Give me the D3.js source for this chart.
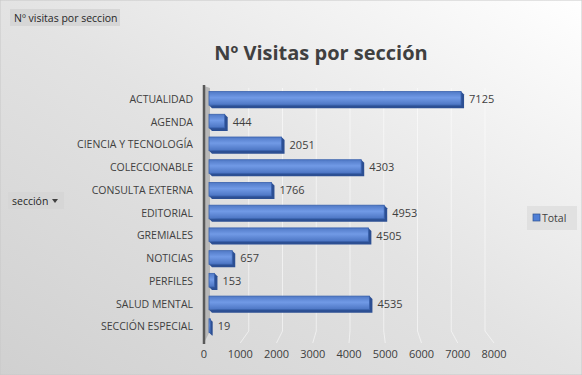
<!DOCTYPE html>
<html>
<head>
<meta charset="utf-8">
<script src="https://d3js.org/d3.v7.min.js"></script>
<style>
  body { margin: 0; }
  svg { display: block; }
  text { font-family: "Open Sans", sans-serif; }
</style>
</head>
<body>
<svg id="chart" width="582" height="375"></svg>
<script>
  // data
  const categories = ["ACTUALIDAD", "AGENDA", "CIENCIA Y TECNOLOGÍA", "COLECCIONABLE", "CONSULTA EXTERNA",
    "EDITORIAL", "GREMIALES", "NOTICIAS", "PERFILES", "SALUD MENTAL", "SECCIÓN ESPECIAL"];
  const visitas = [7125, 444, 2051, 4303, 1766, 4953, 4505, 657, 153, 4535, 19];
  const ticks = [0, 1000, 2000, 3000, 4000, 5000, 6000, 7000, 8000];

  const svg = d3.select("#chart");
  const W = 582, H = 375;
  const defs = svg.append("defs");

  // background gradient
  const bg = defs.append("linearGradient").attr("id", "bg")
    .attr("x1", "100%").attr("y1", "0%").attr("x2", "0%").attr("y2", "100%");
  bg.append("stop").attr("offset", "0%").attr("stop-color", "#ffffff");
  bg.append("stop").attr("offset", "50%").attr("stop-color", "#e3e3e3");
  bg.append("stop").attr("offset", "100%").attr("stop-color", "#d0d0d0");
  svg.append("rect").attr("width", W).attr("height", H).attr("fill", "url(#bg)")
    .attr("stroke", "#c8c8c8").attr("stroke-width", 1);

  // bar gradient (lighter in the middle)
  const bar = defs.append("linearGradient").attr("id", "bar").attr("x1", 0).attr("y1", 0).attr("x2", 0).attr("y2", 1);
  bar.append("stop").attr("offset", "0%").attr("stop-color", "#5079c6");
  bar.append("stop").attr("offset", "45%").attr("stop-color", "#719ae6");
  bar.append("stop").attr("offset", "100%").attr("stop-color", "#4b74c2");

  // scales
  const y = d3.scaleBand().domain(categories).range([87, 337]).paddingInner(0.4).paddingOuter(0.2);
  const xBar = d3.scaleLinear().domain([0, 8000]).range([209, 492]);
  const xFront = d3.scaleLinear().domain([0, 8000]).range([204, 494]);
  const xBack = d3.scaleLinear().domain([0, 8000]).range([215, 485]);
  const backTop = 88, backBottom = 331, floorY = 343;

  // back wall gridlines + floor diagonals
  const grid = svg.append("g");
  grid.selectAll("path").data(ticks.slice(1)).join("path")
    .attr("d", d => `M${xBack(d)},${backTop}V${backBottom}L${xFront(d)},${floorY}`)
    .attr("fill", "none").attr("stroke", "#ffffff").attr("stroke-opacity", 0.55).attr("stroke-width", 1);

  // left wall
  svg.append("path")
    .attr("d", `M204,86L210,88L210,${backBottom}L204,${floorY}Z`)
    .attr("fill", "#b8b8b8");
  svg.append("line").attr("x1", 204).attr("x2", 204).attr("y1", 85).attr("y2", floorY + 1)
    .attr("stroke", "#595959").attr("stroke-width", 2.5);

  // 3D bars
  const bars = svg.append("g").selectAll("g").data(categories).join("g");
  const depth = 3;
  bars.append("path")
    .attr("d", (d, i) => {
      const x0 = xBar(0), x1 = xBar(visitas[i]), y0 = y(d), h = y.bandwidth();
      return `M${x0},${y0 + h}L${x0 + depth},${y0 + h + depth}L${x1 + depth},${y0 + h + depth}L${x1 + depth},${y0 + depth}L${x1},${y0}Z`;
    })
    .attr("fill", "#2c4f93");
  bars.append("rect")
    .attr("x", xBar(0))
    .attr("y", d => y(d))
    .attr("width", (d, i) => Math.max(1.5, xBar(visitas[i]) - xBar(0)))
    .attr("height", y.bandwidth())
    .attr("fill", "url(#bar)")
    .attr("stroke", "#3a62ad").attr("stroke-width", 0.8);

  // value labels
  bars.append("text")
    .attr("x", (d, i) => xBar(visitas[i]) + depth + 5)
    .attr("y", d => y(d) + y.bandwidth() / 2 + 1)
    .attr("dy", "0.35em")
    .attr("font-size", 11).attr("fill", "#404040")
    .text((d, i) => visitas[i]);

  // category labels
  svg.append("g").selectAll("text").data(categories).join("text")
    .attr("x", 193)
    .attr("y", d => y(d) + y.bandwidth() / 2 + 1)
    .attr("dy", "0.35em")
    .attr("text-anchor", "end")
    .attr("font-size", 10.5).attr("fill", "#404040")
    .text(d => d);

  // x axis labels
  svg.append("g").selectAll("text").data(ticks).join("text")
    .attr("x", d => xFront(d))
    .attr("y", 354)
    .attr("dy", "0.35em")
    .attr("text-anchor", "middle")
    .attr("font-size", 11).attr("fill", "#404040")
    .text(d => d);

  // title
  svg.append("text").attr("x", 321).attr("y", 53).attr("dy", "0.35em")
    .attr("text-anchor", "middle").attr("font-size", 20).attr("font-weight", "bold")
    .attr("fill", "#404040").text("Nº Visitas por sección");

  // field buttons
  svg.append("rect").attr("x", 10).attr("y", 9).attr("width", 110).attr("height", 17).attr("fill", "#d6d6d6");
  svg.append("text").attr("x", 14).attr("y", 18).attr("dy", "0.35em").attr("font-size", 10.5)
    .attr("fill", "#262626").text("Nº visitas por seccion");

  svg.append("rect").attr("x", 8).attr("y", 192).attr("width", 56).attr("height", 17).attr("fill", "#d6d6d6");
  svg.append("text").attr("x", 12).attr("y", 201).attr("dy", "0.35em").attr("font-size", 10.5)
    .attr("fill", "#262626").text("sección");
  svg.append("path").attr("d", "M52,199L58,199L55,203Z").attr("fill", "#404040");

  // legend
  svg.append("rect").attr("x", 527).attr("y", 206).attr("width", 50).attr("height", 24).attr("fill", "#dcdcdc").attr("opacity", 0.7);
  svg.append("rect").attr("x", 533).attr("y", 214).attr("width", 7).attr("height", 7)
    .attr("fill", "#4f7fd6").attr("stroke", "#2f528f").attr("stroke-width", 0.7);
  svg.append("text").attr("x", 542).attr("y", 218).attr("dy", "0.35em").attr("font-size", 10.5)
    .attr("fill", "#404040").text("Total");
</script>
</body>
</html>
